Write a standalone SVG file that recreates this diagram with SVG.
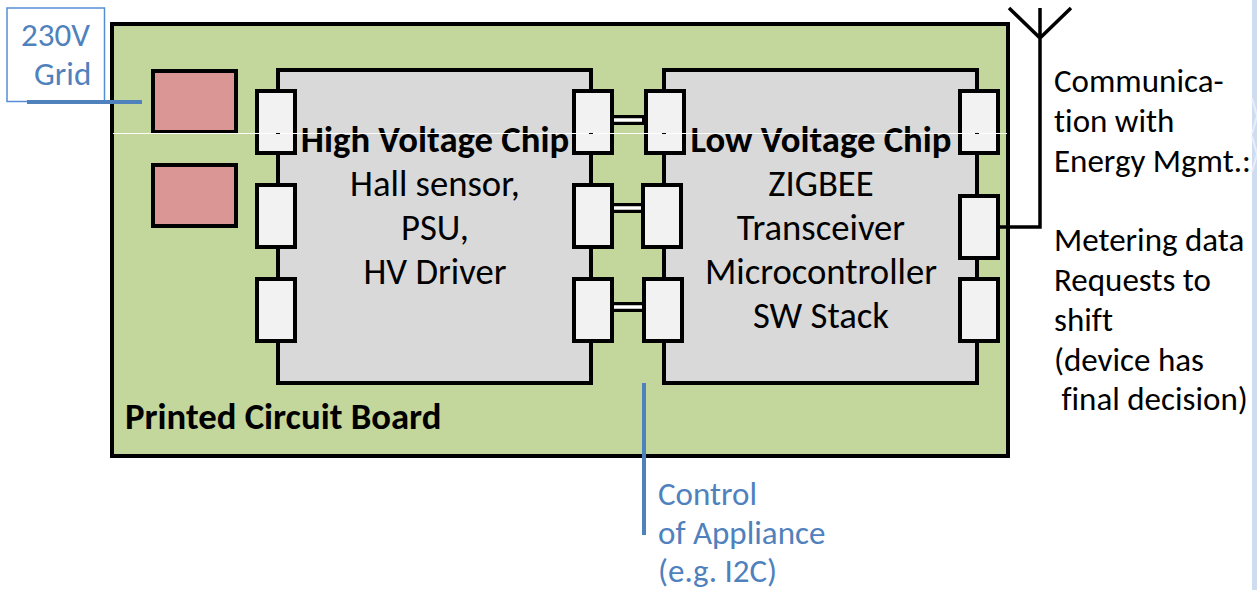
<svg xmlns="http://www.w3.org/2000/svg" width="1257" height="590" viewBox="0 0 1257 590">
<style>
text{font-family:Carlito,Calibri,Lato,"Open Sans",sans-serif;font-size:33px;fill:#000;font-variant-ligatures:none}
.b{fill:#4f81bd}
.bold{font-weight:700}
.big{font-size:36.700px}
.m{text-anchor:middle}
.pin{fill:#f2f2f2;stroke:#000;stroke-width:4}
.pad{fill:#d99694;stroke:#000;stroke-width:4}
.chip{fill:#d9d9d9;stroke:#000;stroke-width:4}
.dash{stroke:#000;stroke-width:1}
.w{stroke:#000;stroke-width:10}
.wi{stroke:#fff;stroke-width:3.5}
.ant{fill:none;stroke:#000;stroke-width:3.5}
.bl{fill:none;stroke:#4f81bd;stroke-width:4}
</style>
<rect x="1252" y="0" width="5" height="590" fill="#cfdcf0"/>
<path d="M1252 98l5 18-5 18M1252 136l5 18-5 18" fill="none" stroke="#e8eef8" stroke-width="2"/>
<g id="board"><rect x="112" y="24" width="896" height="432" fill="#c3d69b" stroke="#000" stroke-width="4"/>
<text class="bold big" x="125" y="429">Printed Circuit Board</text></g>
<g id="pad1"><rect class="pad" x="153" y="71" width="83" height="61"/></g>
<g id="pad2"><rect class="pad" x="153" y="165" width="83" height="61"/></g>
<g id="hv-chip"><rect class="chip" x="278" y="70" width="313" height="313"/>
<text class="bold big m" x="435" y="152">High Voltage Chip</text>
<text class="big m" x="435" y="196">Hall sensor,</text>
<text class="big m" x="435" y="240">PSU,</text>
<text class="big m" x="435" y="284">HV Driver</text></g>
<g id="lv-chip"><rect class="chip" x="664" y="70" width="313" height="313"/>
<text class="bold big m" x="821" y="152">Low Voltage Chip</text>
<text class="big m" x="821" y="196">ZIGBEE</text>
<text class="big m" x="821" y="240">Transceiver</text>
<text class="big m" x="821" y="284">Microcontroller</text>
<text class="big m" x="821" y="328">SW Stack</text></g>
<g id="connectors">
<path class="w" d="M611 120H646M611 208H643M611 307H644"/>
<path class="wi" d="M613 120H642M613 208H641M613 307H642"/>
<path class="ant" d="M999 227H1040V8M1009 8L1040 38L1071 8"/>
<path class="bl" d="M644 383V535"/>
</g>
<g id="hv-left-pins"><rect class="pin" x="257" y="91" width="38" height="62"/><rect class="pin" x="257" y="185" width="38" height="62"/><rect class="pin" x="257" y="279" width="38" height="62"/></g>
<g id="hv-right-pins"><rect class="pin" x="574" y="91" width="38" height="62"/><rect class="pin" x="574" y="185" width="38" height="62"/><rect class="pin" x="574" y="279" width="38" height="62"/></g>
<g id="lv-left-pins"><rect class="pin" x="646" y="91" width="38" height="62"/><rect class="pin" x="643" y="185" width="38" height="62"/><rect class="pin" x="644" y="279" width="38" height="62"/></g>
<g id="lv-right-pins"><rect class="pin" x="960" y="91" width="38" height="62"/><rect class="pin" x="960" y="196" width="38" height="62"/><rect class="pin" x="960" y="279" width="38" height="62"/></g>
<path d="M113 133.500H1007" stroke="#fff" stroke-width="1"/>
<path class="dash" d="M276 133.500H280M589 133.500H593M662 133.500H666M975 133.500H979"/>
<g id="grid-label"><rect x="7" y="8" width="97.500" height="93.500" fill="none" stroke="#558ed5" stroke-width="1.500"/>
<text class="b" x="21" y="46">230V</text><text class="b" x="34" y="85">Grid</text></g>
<path class="bl" d="M27 102H142"/>
<g id="comm-label">
<text x="1054" y="92">Communica-</text><text x="1054" y="132">tion with</text><text x="1054" y="172">Energy Mgmt.:</text>
<text x="1054" y="251">Metering data</text><text x="1054" y="291">Requests to</text><text x="1054" y="331">shift</text><text x="1054" y="371">(device has</text><text x="1054" y="410" xml:space="preserve"> final decision)</text></g>
<g id="control-label"><text class="b" x="658" y="505">Control</text><text class="b" x="658" y="544">of Appliance</text><text class="b" x="658" y="581.500">(e.g. I2C)</text></g>
</svg>
